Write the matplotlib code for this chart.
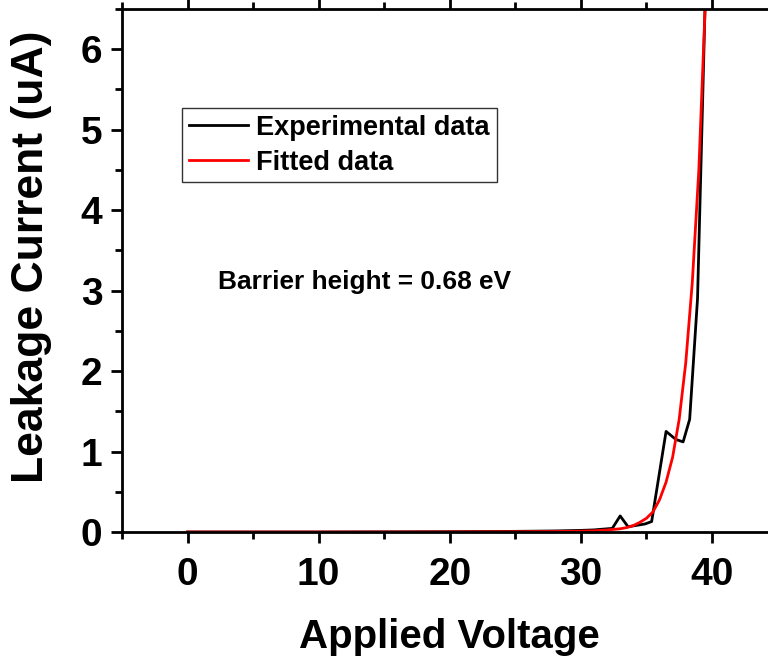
import matplotlib
matplotlib.use("Agg")
import matplotlib.pyplot as plt
from matplotlib.ticker import MultipleLocator

# Experimental data
exp_v = [0, 5, 10, 15, 20, 25, 28, 30, 31, 32.4, 33.0, 33.6, 34.9, 35.4, 36.5, 37.25, 37.8, 38.3, 38.9, 39.5]
exp_i = [0, 0, 0, 0.002, 0.004, 0.008, 0.013, 0.02, 0.026, 0.045, 0.2, 0.065, 0.1, 0.13, 1.25, 1.15, 1.12, 1.4, 2.9, 6.7]

# Fitted data
fit_v = [0, 5, 10, 15, 20, 25, 28, 30, 31, 32, 33, 33.5, 34, 34.5, 35, 35.5, 36, 36.5, 37, 37.5, 38, 38.5, 39, 39.5]
fit_i = [0, 0, 0, 0, 0.001, 0.003, 0.006, 0.01, 0.015, 0.025, 0.04, 0.055, 0.08, 0.12, 0.17, 0.25, 0.4, 0.62, 0.93, 1.4, 2.1, 3.1, 4.5, 6.6]

x_ticks = [0, 10, 20, 30, 40]
y_ticks = [0, 1, 2, 3, 4, 5, 6]

plt.rcParams['font.family'] = ['Liberation Sans', 'DejaVu Sans']
plt.rcParams['font.weight'] = 'bold'

W, H = 768, 659
fig = plt.figure(figsize=(W / 100, H / 100), dpi=100)
ax_w = 777.5 - 122
ax_h = 532 - 9
ax = fig.add_axes([122 / W, 1 - 532 / H, ax_w / W, ax_h / H])

ax.plot(exp_v, exp_i, color='black', lw=2.0, label='Experimental data')
ax.plot(fit_v, fit_i, color='#ff0000', lw=2.0, label='Fitted data')

ax.set_xlim(-5, 45)
ax.set_ylim(0, 6.5)
ax.set_xticks(x_ticks)
ax.set_yticks(y_ticks)
ax.xaxis.set_minor_locator(MultipleLocator(5))
ax.yaxis.set_minor_locator(MultipleLocator(0.5))

for s in ax.spines.values():
    s.set_linewidth(2.0)

ax.tick_params(which='both', direction='out', width=2.0, top=True, right=True,
               labeltop=False, labelright=False)
ax.tick_params(which='major', length=8, labelsize=28)
ax.tick_params(axis='x', which='major', pad=10)
ax.tick_params(axis='y', which='major', pad=6)
ax.tick_params(which='minor', length=5)
for lab in ax.get_xticklabels() + ax.get_yticklabels():
    lab.set_fontweight('bold')

ax.set_xlabel('Applied Voltage', fontsize=29, fontweight='bold')
ax.xaxis.label.set_va('baseline')
ax.xaxis.set_label_coords(0.5, -(648 - 532) / ax_h)

ax.set_ylabel('Leakage Current (uA)', fontsize=32, fontweight='bold')
ax.yaxis.label.set_va('center')
ax.yaxis.set_label_coords((32 - 122) / ax_w, (532 - 257) / ax_h)

leg = ax.legend(loc='upper left', bbox_to_anchor=(182 / W, 1 - 108 / H),
                bbox_transform=fig.transFigure, fontsize=19.5, frameon=True,
                fancybox=False, handlelength=2.2, handletextpad=0.3,
                borderpad=0.25, labelspacing=0.33, borderaxespad=0)
leg.get_frame().set_edgecolor('black')
leg.get_frame().set_linewidth(1.0)
for t in leg.get_texts():
    t.set_fontweight('bold')

fig.text(364 / W, 1 - 282 / H, 'Barrier height = 0.68 eV', fontsize=18.9,
         fontweight='bold', ha='center', va='center')

fig.savefig('out.png', dpi=100)
